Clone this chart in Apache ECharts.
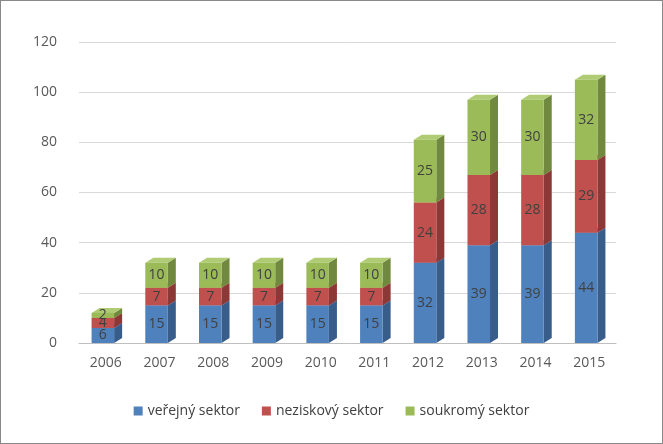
<!DOCTYPE html>
<html>
<head>
<meta charset="utf-8">
<title>sektory</title>
<style>html,body{margin:0;padding:0;background:#fff}#chart{width:661px;height:442px;border:1px solid #888}</style>
</head>
<body>
<div id="chart"></div>
<script src="https://cdn.jsdelivr.net/npm/echarts@6/dist/echarts.min.js"></script>
<script>
const years = ['2006','2007','2008','2009','2010','2011','2012','2013','2014','2015'];
const verejny = [6, 15, 15, 15, 15, 15, 32, 39, 39, 44];
const neziskovy = [4, 7, 7, 7, 7, 7, 24, 28, 28, 29];
const soukromy = [2, 10, 10, 10, 10, 10, 25, 30, 30, 32];

const FONT = '"Open Sans", "DejaVu Sans", sans-serif';
const layers = [
    { name: 'veřejný sektor', values: verejny, front: '#4F81BD', side: '#385D8A', top: '#6A95CC' },
    { name: 'neziskový sektor', values: neziskovy, front: '#C0504D', side: '#8C3836', top: '#CF6E6B' },
    { name: 'soukromý sektor', values: soukromy, front: '#9BBB59', side: '#71893F', top: '#AFCB74' }
];

// kumulativni zaklady pro stack
const bases = years.map(() => 0);
const series = layers.map(layer => {
    const data = layer.values.map((v, i) => {
        const item = [i, bases[i], bases[i] + v, v];
        bases[i] += v;
        return item;
    });
    return {
        name: layer.name,
        type: 'custom',
        itemStyle: { color: layer.front },
        data: data,
        renderItem: (params, api) => {
            const x = api.value(0);
            const p0 = api.coord([x, api.value(1)]);
            const p1 = api.coord([x, api.value(2)]);
            const w = api.size([1, 0])[0] * 0.42;
            const dx = 8, dy = 5;
            const l = p0[0] - w / 2 - 3, r = l + w;
            return {
                type: 'group',
                children: [
                    { type: 'polygon', shape: { points: [[r, p1[1]], [r + dx, p1[1] - dy], [r + dx, p0[1] - dy], [r, p0[1]]] }, style: { fill: layer.side } },
                    { type: 'polygon', shape: { points: [[l, p1[1]], [l + dx, p1[1] - dy], [r + dx, p1[1] - dy], [r, p1[1]]] }, style: { fill: layer.top } },
                    { type: 'rect', shape: { x: l, y: p1[1], width: w, height: p0[1] - p1[1] }, style: { fill: layer.front } },
                    { type: 'text', x: l + w / 2, y: (p0[1] + p1[1]) / 2, style: { text: String(api.value(3)), fill: '#404040', font: '14px ' + FONT, align: 'center', verticalAlign: 'middle' } }
                ]
            };
        }
    };
});

const chart = echarts.init(document.getElementById('chart'));
chart.setOption({
    animation: false,
    grid: { left: 78, right: 46, top: 41, bottom: 100 },
    legend: {
        bottom: 20, itemWidth: 9, itemHeight: 9, itemGap: 22, icon: 'rect',
        textStyle: { color: '#404040', fontSize: 14, fontFamily: FONT },
        data: layers.map(l => l.name)
    },
    xAxis: {
        type: 'category', data: years,
        axisLine: { lineStyle: { color: '#BFBFBF' } }, axisTick: { show: false },
        axisLabel: { color: '#595959', fontSize: 14, margin: 13, fontFamily: FONT }
    },
    yAxis: {
        type: 'value', min: 0, max: 120, interval: 20,
        axisLine: { show: false }, axisTick: { show: false },
        splitLine: { lineStyle: { color: '#D9D9D9' } },
        axisLabel: { color: '#595959', fontSize: 14, margin: 22, fontFamily: FONT }
    },
    series: series
});
</script>
</body>
</html>
